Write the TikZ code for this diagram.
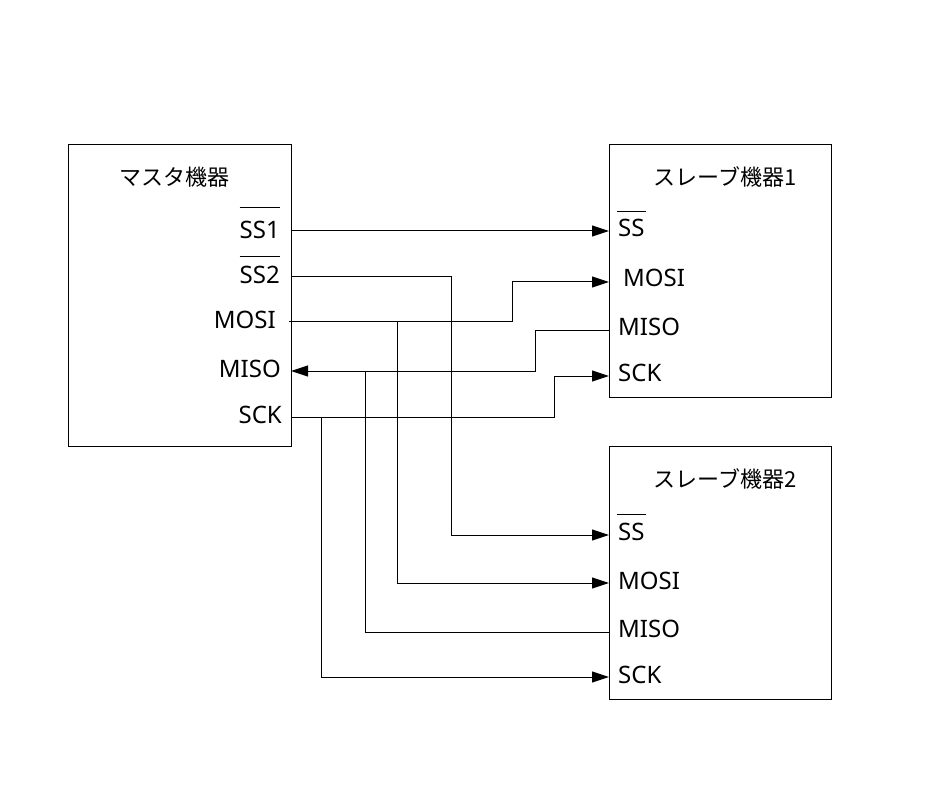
\documentclass[tikz,border=0pt]{standalone}
\usepackage{fontspec}
\setmainfont{Noto Sans}
\newfontfamily\cjk{Noto Sans CJK JP}
\usetikzlibrary{arrows.meta,calc}
\begin{document}
\begin{tikzpicture}[x=1pt,y=-1pt,
  box/.style={draw, line width=1pt, anchor=north west, inner sep=0pt},
  lbl/.style={inner sep=0pt, font=\fontsize{24}{28}\selectfont},
  ttl/.style={inner sep=0pt, font=\fontsize{22}{26}\selectfont\cjk},
  wire/.style={line width=1pt},
  arr/.style={wire, -{Triangle[length=17pt,width=11pt]}},
  ovl/.style={line width=1pt}
]
\useasboundingbox (0,0) rectangle (945,794);

% boxes
\node[box, minimum width=223pt, minimum height=302pt] (master) at (68,144) {};
\node[box, minimum width=222pt, minimum height=253pt] (slave1) at (609,144) {};
\node[box, minimum width=222pt, minimum height=253pt] (slave2) at (609,446) {};

% titles
\node[ttl] (mt) at (174,177) {マスタ機器};
\node[ttl] (s1t) at (725,177) {スレーブ機器1};
\node[ttl] (s2t) at (725,479) {スレーブ機器2};

% master labels
\node[lbl, anchor=base east] (mss1) at (280,239) {SS1};
\node[lbl, anchor=base east] (mss2) at (280,284) {SS2};
\node[lbl, anchor=base east] (mmosi) at (276,328) {MOSI};
\node[lbl, anchor=base east] (mmiso) at (281,377) {MISO};
\node[lbl, anchor=base east] (msck) at (282,423) {SCK};
\draw[ovl] ($(mss1.base west)+(0,-31)$) -- ($(mss1.base east)+(0,-31)$);
\draw[ovl] ($(mss2.base west)+(0,-27)$) -- ($(mss2.base east)+(0,-27)$);

% slave 1 labels
\node[lbl, anchor=base west] (s1ss) at (618,237) {SS};
\node[lbl, anchor=base west] (s1mosi) at (623,287) {MOSI};
\node[lbl, anchor=base west] (s1miso) at (618,335) {MISO};
\node[lbl, anchor=base west] (s1sck) at (618,381) {SCK};
\draw[ovl] ($(s1ss.base west)+(-1,-25)$) -- ($(s1ss.base east)+(1,-25)$);

% slave 2 labels
\node[lbl, anchor=base west] (s2ss) at (618,540) {SS};
\node[lbl, anchor=base west] (s2mosi) at (618,589) {MOSI};
\node[lbl, anchor=base west] (s2miso) at (618,637) {MISO};
\node[lbl, anchor=base west] (s2sck) at (618,683) {SCK};
\draw[ovl] ($(s2ss.base west)+(-1,-26)$) -- ($(s2ss.base east)+(1,-26)$);

% pins
\coordinate (p-mss1) at (291,231);
\coordinate (p-mss2) at (291,277);
\coordinate (p-mmosi) at (289,322);
\coordinate (p-mmiso) at (291,371);
\coordinate (p-msck) at (291,417);
\coordinate (p-s1ss) at (609,231);
\coordinate (p-s1mosi) at (609,282);
\coordinate (p-s1miso) at (609,330);
\coordinate (p-s1sck) at (609,376);
\coordinate (p-s2ss) at (609,535);
\coordinate (p-s2mosi) at (609,583);
\coordinate (p-s2miso) at (609,632);
\coordinate (p-s2sck) at (609,677);

% bus x positions
\coordinate (x-ss2) at (451,0);
\coordinate (x-mosi1) at (512,0);
\coordinate (x-mosi2) at (397,0);
\coordinate (x-miso1) at (535,0);
\coordinate (x-miso2) at (365,0);
\coordinate (x-sck1) at (554,0);
\coordinate (x-sck2) at (321,0);

% connectors
\draw[arr] (p-mss1) -- (p-s1ss);
\draw[arr] (p-mss2) -- (p-mss2 -| x-ss2) -- (p-s2ss -| x-ss2) -- (p-s2ss);
\draw[arr] (p-mmosi) -- (p-mmosi -| x-mosi1) -- (p-s1mosi -| x-mosi1) -- (p-s1mosi);
\draw[arr] (p-mmosi -| x-mosi2) -- (p-s2mosi -| x-mosi2) -- (p-s2mosi);
\draw[arr] (p-s1miso) -- (p-s1miso -| x-miso1) -- (p-mmiso -| x-miso1) -- (p-mmiso);
\draw[wire] (p-s2miso) -- (p-s2miso -| x-miso2) -- (p-mmiso -| x-miso2);
\draw[arr] (p-msck) -- (p-msck -| x-sck1) -- (p-s1sck -| x-sck1) -- (p-s1sck);
\draw[arr] (p-msck -| x-sck2) -- (p-s2sck -| x-sck2) -- (p-s2sck);
\end{tikzpicture}
\end{document}
